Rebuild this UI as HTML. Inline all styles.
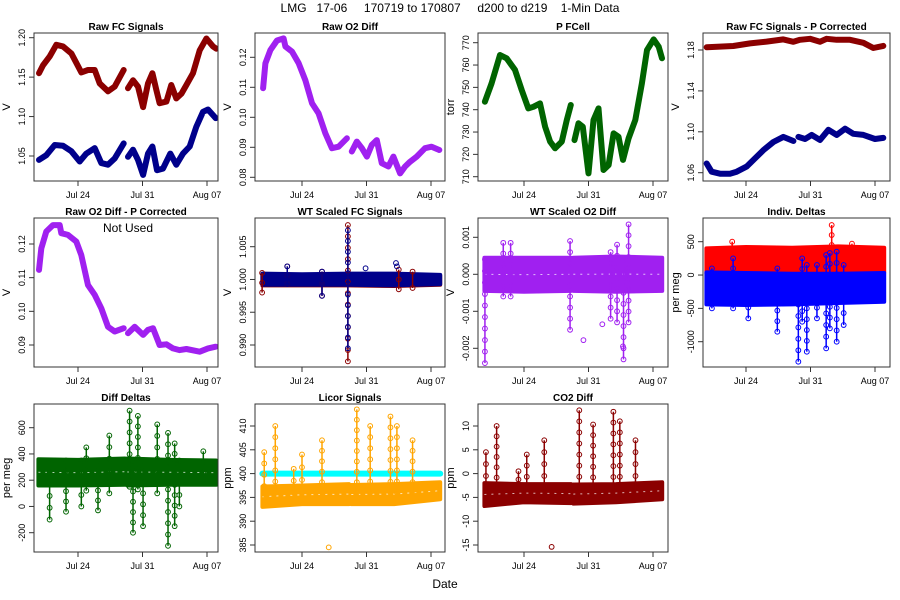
<!DOCTYPE html>
<html><head><meta charset="utf-8"><style>
body{margin:0;background:#fff;}
svg{display:block;font-family:"Liberation Sans",Arial,sans-serif;}
</style></head><body>
<svg id="c" width="900" height="600" viewBox="0 0 900 600"></svg>
<script>
// ---- data ----
const tickDays=[5,12,19];
const tickLabels=["Jul 24","Jul 31","Aug 07"];
// P1 Raw FC Signals
const p1Days=[0.77,1.2,1.92,2.65,3.37,4.28,5.36,6.09,6.81,7.35,8.26,8.98,9.96,null,10.43,10.97,11.51,12.06,12.6,13.07,13.5,13.86,14.59,15.13,15.67,16.22,16.76,17.48,18.21,18.93,19.65,20.01];
const p1Red=[1.155,1.165,1.176,1.191,1.189,1.18,1.156,1.159,1.159,1.142,1.132,1.138,1.159,null,1.136,1.146,1.138,1.112,1.142,1.155,1.134,1.117,1.119,1.14,1.123,1.129,1.14,1.155,1.184,1.199,1.189,1.186];
const p1BlueDays=[0.77,1.56,2.47,3.37,4.28,5.18,5.9,6.81,7.53,8.26,8.98,9.96,null,10.43,10.97,11.51,12.06,12.6,13.07,13.57,14.23,15.02,15.67,16.4,17.12,17.84,18.57,19.11,19.94];
const p1Blue=[1.045,1.051,1.064,1.063,1.056,1.043,1.053,1.06,1.041,1.039,1.047,1.066,null,1.049,1.058,1.045,1.026,1.053,1.062,1.032,1.034,1.053,1.039,1.053,1.062,1.087,1.106,1.109,1.098];
// P2 Raw O2 Diff
const p2Days=[0.78,1.03,1.57,2.29,3.0,3.2,3.92,4.64,5.36,6.08,6.8,7.53,8.25,8.97,9.87,null,10.41,10.95,11.5,12.04,12.58,13.12,13.66,14.38,14.92,15.65,16.19,16.73,17.45,18.35,19.07,19.9];
const p2Vals=[.1097,.118,.1224,.1256,.1263,.1236,.1219,.118,.1124,.1047,.1013,.0947,.0897,.0902,.093,null,.0886,.0919,.0897,.0869,.0908,.0924,.0847,.0836,.0869,.0813,.0836,.0852,.0869,.0897,.0902,.0891];
// P3 P FCell
const p3Days=[0.76,1.48,2.39,3.11,4.02,4.75,5.47,6.02,6.74,7.29,7.83,8.37,9.1,9.64,10.08,null,10.48,10.91,11.38,12.0,12.54,13.09,13.63,14.18,14.72,15.26,15.74,16.35,17.08,17.8,18.35,19.07,19.62,19.98];
const p3Vals=[743.6,751.8,764.5,763,757.8,748.8,740.6,741.3,742.8,732.4,725.7,722.7,725.7,735.4,742.1,null,726.4,733.9,732.4,711.5,735.4,740.6,713,715.2,729.4,727.9,717.5,727.2,735.4,751.8,766.7,771.5,768.2,763];
// P4 Raw FC Signals - P Corrected
const p4RedDays=[0.73,3.62,5.43,7.24,9.05,10.14,10.86,11.95,13.03,13.76,14.84,16.29,17.74,18.82,19.9];
const p4Red=[1.1826,1.1839,1.1865,1.1882,1.1904,1.188,1.19,1.191,1.188,1.191,1.19,1.19,1.187,1.182,1.184];
const p4BlueDays=[0.73,1.27,2.18,3.26,3.99,5.07,5.98,6.88,7.97,9.05,10.14,null,10.69,11.41,12.13,13.03,13.94,14.84,15.75,16.65,17.74,19.0,19.9];
const p4Blue=[1.069,1.061,1.059,1.059,1.061,1.066,1.074,1.082,1.09,1.095,1.091,null,1.095,1.093,1.097,1.092,1.102,1.097,1.103,1.098,1.097,1.093,1.094];
// P5 Raw O2 Diff - P Corrected
const p5Days=[0.77,1.02,1.56,2.29,3.01,3.19,3.91,4.82,5.36,6.09,6.81,7.53,8.26,8.98,9.96,null,10.43,11.15,12.06,12.6,13.14,13.86,14.59,15.31,16.03,16.76,18.21,19.11,19.94];
const p5Vals=[.1123,.1187,.1237,.1256,.1256,.1232,.1227,.1207,.1167,.1078,.1049,.1009,.0954,.094,.095,null,.0935,.0954,.093,.0945,.095,.09,.0902,.089,.0885,.0888,.088,.089,.0895];
// P6 WT Scaled FC Signals
const p6BandDays=[0.7,5,10,15,20];
const p6BandHi=[1.0009,1.0008,1.0009,1.0009,1.0007];
const p6BandLo=[0.9992,0.9992,0.9992,0.9991,0.9993];
const p6SpikeDays=[0.67,3.4,7.17,9.98,15.5,17.0];
const p6SpikeHi=[1.001,1.002,1.0012,1.0083,1.0015,1.0012];
const p6SpikeLo=[0.998,0.9993,0.9975,0.9875,0.9985,0.9987];
const p6OutDays=[11.9,15.2,15.3];
const p6OutVals=[1.0017,1.0025,1.002];
// P7 WT Scaled O2 Diff
const p7BandDays=[0.7,5,10.1,null,10.35,15,20];
const p7BandHi=[0.00045,0.00045,0.00045,null,0.00045,0.00048,0.00045];
const p7BandLo=[-0.00045,-0.00047,-0.00045,null,-0.00045,-0.00047,-0.00045];
const p7SpikeDays=[0.76,2.75,3.55,10.0,14.4,15.1,15.8,16.35];
const p7SpikeHi=[0.0004,0.00085,0.00085,0.0009,0.0006,0.0008,0.0004,0.00135];
const p7SpikeLo=[-0.0024,-0.0006,-0.0006,-0.0015,-0.0012,-0.0013,-0.0023,-0.0013];
const p7OutDays=[11.45,15.74,13.5];
const p7OutVals=[-0.00178,-0.00195,-0.00135];
// P8 Indiv. Deltas
const p8RedDays=[0.7,5,10,15,20];
const p8RedHi=[400,420,410,430,410];
const p8RedLo=[20,40,30,40,40];
const p8BlueDays=[0.7,5,10,15,20];
const p8BlueHi=[40,30,20,20,30];
const p8BlueLo=[-440,-450,-440,-420,-400];
const p8RedSpikeDays=[14.3,3.5,16.5];
const p8RedSpikeHi=[750,500,470];
const p8BlueSpikeDays=[1.3,3.6,5.25,8.4,10.68,11.1,11.6,12.7,13.7,14.1,14.84,15.6];
const p8BlueSpikeHi=[100,250,0,100,-100,250,150,150,300,330,350,150];
const p8BlueSpikeLo=[-500,-500,-650,-850,-1300,-700,-1150,-650,-1100,-800,-1000,-750];
// P9 Diff Deltas
const p9BandDays=[0.7,5,10.1,null,10.35,15,20];
const p9BandHi=[360,355,365,null,365,355,350];
const p9BandLo=[160,160,165,null,160,165,165];
const p9SpikeDays=[1.92,3.7,5.36,5.9,7.17,8.4,10.6,10.97,11.5,12.06,13.6,14.77,15.49,16.0,18.6];
const p9SpikeHi=[350,350,350,450,350,540,730,350,690,350,625,560,480,350,420];
const p9SpikeLo=[-100,-40,0,120,-30,100,150,-200,130,-150,100,-300,-150,0,180];
// P10 Licor Signals
const p10RefDays=[0.7,20];
const p10RefVals=[400,400];
const p10BandDays=[0.7,5,10.1,null,10.35,15,20];
const p10BandHi=[397.3,397.5,397.8,null,397.6,397.8,398.2];
const p10BandLo=[393.0,393.6,393.6,null,393.6,393.6,394.6];
const p10SpikeDays=[0.9,2.1,4.1,5.0,7.17,10.95,12.4,14.6,15.3,17.0];
const p10SpikeHi=[404.5,410,401,404,407,413.5,410,412,410,407];
const p10SpikeLo=[395,396,396,396,396,396,396,396,396,396];
const p10OutDays=[7.9];
const p10OutVals=[384.5];
// P11 CO2 Diff
const p11BandDays=[0.7,5,10.1,null,10.35,15,20];
const p11BandHi=[-2.0,-2.2,-2.2,null,-2.3,-2.2,-1.8];
const p11BandLo=[-6.8,-6.0,-6.2,null,-6.3,-6.0,-5.4];
const p11SpikeDays=[0.87,2.03,4.4,5.3,7.2,11.0,12.5,14.7,15.4,17.1];
const p11SpikeHi=[4.5,10,0.5,4,7,13.3,10.3,13,11,7];
const p11SpikeLo=[-3,-3,-3,-3,-3,-3,-3,-3,-3,-3];
const p11OutDays=[8.0];
const p11OutVals=[-15.4];

// ---- layout ----
const cols=[{L:34,R:218,d5:78,d19:207},{L:255,R:445,d5:302,d19:431},{L:478,R:668,d5:524,d19:653},{L:703,R:890,d5:746,d19:875}];
const rows=[{T:33,B:181},{T:218,B:367},{T:404,B:552}];
const svg=document.getElementById('c');
const NS='http://www.w3.org/2000/svg';
function mk(tag,attrs,parent){const e=document.createElementNS(NS,tag);for(const k in attrs)e.setAttribute(k,attrs[k]);(parent||svg).appendChild(e);return e;}

function panel(name,ci,ri,title,ylab,ya,yb,yticks,yfmt){
  const c=cols[ci],r=rows[ri];
  const g=mk('g',{});
  
  
  const xs=d=>c.d5+(d-5)*(c.d19-c.d5)/14;
  const ys=v=>ya[1]+(v-ya[0])*(yb[1]-ya[1])/(yb[0]-ya[0]);
  const clipId='clip-'+name;
  const cp=mk('clipPath',{id:clipId},g);mk('rect',{x:c.L,y:r.T,width:c.R-c.L,height:r.B-r.T},cp);
  const plot=mk('g',{'clip-path':'url(#'+clipId+')'},g);
  
  
  const box=mk('rect',{x:c.L,y:r.T,width:c.R-c.L,height:r.B-r.T,fill:'none',stroke:'#333','stroke-width':1},g);
  
  
  const t=mk('text',{x:(c.L+c.R)/2,y:r.T-3,'text-anchor':'middle','font-size':10,'font-weight':'bold'},g);t.textContent=title;
  
  
  tickDays.forEach((d,i)=>{const x=xs(d);
    mk('line',{x1:x,x2:x,y1:r.B,y2:r.B+5,stroke:'#333'},g);
    const tl=mk('text',{x:x,y:r.B+17,'text-anchor':'middle','font-size':9},g);tl.textContent=tickLabels[i];
    
    
  });
  mk('line',{x1:xs(5),x2:xs(19),y1:r.B,y2:r.B,stroke:'#333'},g);
  yticks.forEach(v=>{const y=ys(v);
    mk('line',{x1:c.L-5,x2:c.L,y1:y,y2:y,stroke:'#333'},g);
    const tl=mk('text',{x:0,y:0,'text-anchor':'middle','font-size':9,transform:`translate(${c.L-9},${y}) rotate(-90)`},g);tl.textContent=yfmt(v);
    
    
  });
  mk('line',{x1:c.L,x2:c.L,y1:ys(yticks[0]),y2:ys(yticks[yticks.length-1]),stroke:'#333'},g);
  const yl=mk('text',{x:0,y:0,'text-anchor':'middle','font-size':11,transform:`translate(${c.L-24},${(r.T+r.B)/2}) rotate(-90)`},g);yl.textContent=ylab;
  
  
  return {xs,ys,plot};
}
function line(p,days,vals,color,name,w){
  let segs=[],cur=[];
  days.forEach((d,i)=>{if(d===null||vals[i]===null){if(cur.length)segs.push(cur);cur=[];}else cur.push(p.xs(d).toFixed(1)+','+p.ys(vals[i]).toFixed(1));});
  if(cur.length)segs.push(cur);
  segs.forEach(s=>{const e=mk('polyline',{points:s.join(' '),fill:'none',stroke:color,'stroke-width':w||6,'stroke-linecap':'round','stroke-linejoin':'round'},p.plot);
    
    });
}
function band(p,days,hi,lo,color,name,dash){
  let segs=[],cur=[];
  days.forEach((d,i)=>{if(d===null){if(cur.length)segs.push(cur);cur=[];}else cur.push(i);});
  if(cur.length)segs.push(cur);
  segs.forEach(s=>{
    const up=s.map(i=>p.xs(days[i]).toFixed(1)+','+p.ys(hi[i]).toFixed(1));
    const dn=s.slice().reverse().map(i=>p.xs(days[i]).toFixed(1)+','+p.ys(lo[i]).toFixed(1));
    const e=mk('polygon',{points:up.concat(dn).join(' '),fill:color,stroke:color,'stroke-width':4,'stroke-linejoin':'round'},p.plot);
    
    
    if(dash){const mid=s.map(i=>p.xs(days[i]).toFixed(1)+','+p.ys((hi[i]+lo[i])/2).toFixed(1));
      const m=mk('polyline',{points:mid.join(' '),fill:'none',stroke:'#fff','stroke-width':1,'stroke-dasharray':'2 5',opacity:0.7},p.plot);
      
      }
  });
}
function spikes(p,days,hi,lo,color,name){
  days.forEach((d,i)=>{const x=p.xs(d),y1=p.ys(hi[i]),y2=p.ys(lo[i]);
    const l=mk('line',{x1:x,x2:x,y1:y1,y2:y2,stroke:color,'stroke-width':1.5},p.plot);
    
    
    const n=Math.max(1,Math.round(Math.abs(y2-y1)/11));
    for(let k=0;k<=n;k++){const cc=mk('circle',{cx:x,cy:y1+(y2-y1)*k/n,r:2.4,fill:'none',stroke:color,'stroke-width':1},p.plot);
      
      }
  });
}
function points(p,days,vals,color,name){
  days.forEach((d,i)=>{const cc=mk('circle',{cx:p.xs(d),cy:p.ys(vals[i]),r:2.4,fill:'none',stroke:color,'stroke-width':1},p.plot);
    
    });
}
const f2=v=>v.toFixed(2), f0=v=>String(v), f3=v=>v.toFixed(3);

let p=panel('raw-fc-signals',0,0,'Raw FC Signals','V',[1.20,37.7],[1.05,156],[1.05,1.10,1.15,1.20],f2);
line(p,p1Days,p1Red,'#8b0000','fc-red-series');line(p,p1BlueDays,p1Blue,'#00008b','fc-blue-series');

p=panel('raw-o2-diff',1,0,'Raw O2 Diff','V',[0.12,57.3],[0.08,177.3],[0.08,0.09,0.10,0.11,0.12],f2);
line(p,p2Days,p2Vals,'#a020f0','o2-diff-series');

p=panel('p-fcell',2,0,'P FCell','torr',[770,42.7],[710,176.7],[710,720,730,740,750,760,770],f0);
line(p,p3Days,p3Vals,'#006400','pressure-series');

p=panel('raw-fc-p-corrected',3,0,'Raw FC Signals - P Corrected','V',[1.18,50],[1.06,172.7],[1.06,1.10,1.14,1.18],f2);
line(p,p4RedDays,p4Red,'#8b0000','fc-red-corrected-series');line(p,p4BlueDays,p4Blue,'#00008b','fc-blue-corrected-series');

p=panel('raw-o2-diff-p-corrected',0,1,'Raw O2 Diff - P Corrected','V',[0.12,244],[0.09,345],[0.09,0.10,0.11,0.12],f2);
line(p,p5Days,p5Vals,'#a020f0','o2-diff-corrected-series');
let nu=mk('text',{x:128,y:232,'text-anchor':'middle','font-size':12});nu.textContent='Not Used';



p=panel('wt-scaled-fc-signals',1,1,'WT Scaled FC Signals','V',[1.005,246.7],[0.990,345],[0.990,0.995,1.000,1.005],f3);
band(p,p6BandDays,p6BandHi.map(v=>v-0.0001),p6BandLo.map(v=>v-0.0001),'#8b0000','wt-fc-red-band');
band(p,p6BandDays,p6BandHi,p6BandLo,'#00008b','wt-fc-blue-band');
spikes(p,p6SpikeDays,p6SpikeHi,p6SpikeLo,'#8b0000','wt-fc-red-spike');
spikes(p,[p6SpikeDays[2],p6SpikeDays[3],p6SpikeDays[1]],[p6SpikeHi[2],1.0075,p6SpikeHi[1]],[p6SpikeLo[2],0.9895,p6SpikeLo[1]],'#00008b','wt-fc-blue-spike');
points(p,p6OutDays,p6OutVals,'#00008b','wt-fc-outlier');

p=panel('wt-scaled-o2-diff',2,1,'WT Scaled O2 Diff','V',[0.001,237.3],[-0.002,348.3],[-0.002,-0.001,0,0.001],v=>v.toFixed(3));
band(p,p7BandDays,p7BandHi,p7BandLo,'#a020f0','wt-o2-band',true);
spikes(p,p7SpikeDays,p7SpikeHi,p7SpikeLo,'#a020f0','wt-o2-spike');
points(p,p7OutDays,p7OutVals,'#a020f0','wt-o2-outlier');

p=panel('indiv-deltas',3,1,'Indiv. Deltas','per meg',[500,241.7],[-1000,341.7],[-1000,-500,0,500],f0);
band(p,p8RedDays,p8RedHi,p8RedLo,'#ff0000','red-delta-band');
spikes(p,p8RedSpikeDays,p8RedSpikeHi,p8RedSpikeDays.map(()=>300),'#ff0000','red-delta-spike');
band(p,p8BlueDays,p8BlueHi,p8BlueLo,'#0000ff','blue-delta-band');
spikes(p,p8BlueSpikeDays,p8BlueSpikeHi,p8BlueSpikeLo,'#0000ff','blue-delta-spike');

p=panel('diff-deltas',0,2,'Diff Deltas','per meg',[600,427.7],[-200,532.7],[-200,0,200,400,600],f0);
band(p,p9BandDays,p9BandHi,p9BandLo,'#006400','diff-delta-band',true);
spikes(p,p9SpikeDays,p9SpikeHi,p9SpikeLo,'#006400','diff-delta-spike');

p=panel('licor-signals',1,2,'Licor Signals','ppm',[410,426],[385,545],[385,390,395,400,405,410],f0);
line(p,p10RefDays,p10RefVals,'#00ffff','licor-reference-line',6);
band(p,p10BandDays,p10BandHi,p10BandLo,'#ffa500','licor-sample-band',true);
spikes(p,p10SpikeDays,p10SpikeHi,p10SpikeLo,'#ffa500','licor-spike');
points(p,p10OutDays,p10OutVals,'#ffa500','licor-outlier');

p=panel('co2-diff',2,2,'CO2 Diff','ppm',[10,426],[-15,545],[-15,-10,-5,0,5,10],f0);
band(p,p11BandDays,p11BandHi,p11BandLo,'#8b0000','co2-diff-band',true);
spikes(p,p11SpikeDays,p11SpikeHi,p11SpikeLo,'#8b0000','co2-diff-spike');
points(p,p11OutDays,p11OutVals,'#8b0000','co2-diff-outlier');

let mt=mk('text',{x:450,y:12,'text-anchor':'middle','font-size':12,style:'white-space:pre'});mt.textContent='LMG   17-06     170719 to 170807     d200 to d219    1-Min Data';


let xt=mk('text',{x:445,y:588,'text-anchor':'middle','font-size':12});xt.textContent='Date';


</script>
</body></html>
